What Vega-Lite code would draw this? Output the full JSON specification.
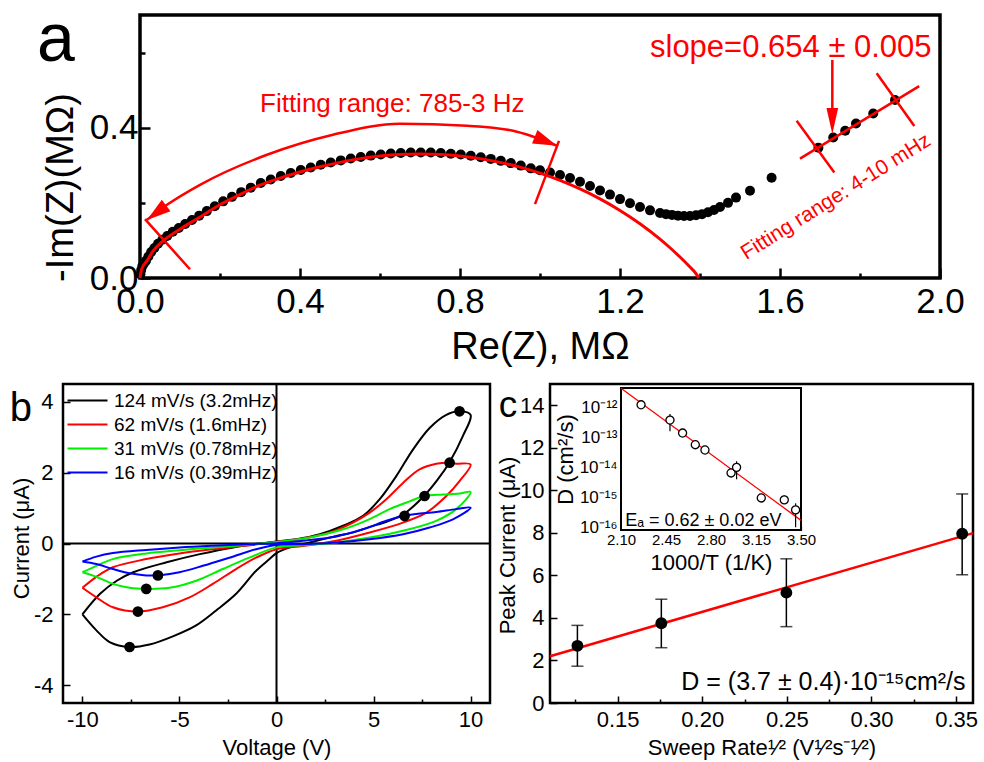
{
"$schema": "https://vega.github.io/schema/vega-lite/v6.json",
"background": "white",
"padding": {"left": 8, "top": 4, "right": 5, "bottom": 2},
"config": {
  "font": "Liberation Sans",
  "view": {"stroke": "black"},
  "axis": {"domain": false, "grid": false, "labelColor": "black", "titleColor": "black", "tickColor": "black", "titleFontWeight": "normal", "labelFont": "Liberation Sans", "titleFont": "Liberation Sans", "labelFlush": false, "labelOverlap": false},
  "text": {"font": "Liberation Sans"}
},
"datasets": {
  "eis": [{"re":0.001,"im":0.010},{"re":0.003,"im":0.021},{"re":0.006,"im":0.032},{"re":0.01,"im":0.039},{"re":0.015,"im":0.046},{"re":0.021,"im":0.057},{"re":0.028,"im":0.069},{"re":0.036,"im":0.080},{"re":0.045,"im":0.091},{"re":0.056,"im":0.102},{"re":0.068,"im":0.112},{"re":0.082,"im":0.123},{"re":0.097,"im":0.133},{"re":0.113,"im":0.1435},{"re":0.13,"im":0.1545},{"re":0.148,"im":0.166},{"re":0.167,"im":0.178},{"re":0.187,"im":0.191},{"re":0.208,"im":0.204},{"re":0.23,"im":0.216},{"re":0.253,"im":0.2285},{"re":0.277,"im":0.2405},{"re":0.302,"im":0.253},{"re":0.327,"im":0.262},{"re":0.352,"im":0.2715},{"re":0.377,"im":0.2795},{"re":0.402,"im":0.2875},{"re":0.427,"im":0.294},{"re":0.452,"im":0.3015},{"re":0.477,"im":0.3075},{"re":0.502,"im":0.313},{"re":0.527,"im":0.3181},{"re":0.552,"im":0.3222},{"re":0.577,"im":0.3258},{"re":0.602,"im":0.3287},{"re":0.627,"im":0.3312},{"re":0.652,"im":0.3329},{"re":0.677,"im":0.3339},{"re":0.702,"im":0.3341},{"re":0.727,"im":0.3338},{"re":0.752,"im":0.3327},{"re":0.777,"im":0.3309},{"re":0.802,"im":0.3285},{"re":0.827,"im":0.3254},{"re":0.852,"im":0.3216},{"re":0.877,"im":0.317},{"re":0.902,"im":0.3118},{"re":0.927,"im":0.3058},{"re":0.952,"im":0.2991},{"re":0.977,"im":0.2918},{"re":1.0,"im":0.287},{"re":1.025,"im":0.281},{"re":1.05,"im":0.274},{"re":1.075,"im":0.266},{"re":1.1,"im":0.256},{"re":1.125,"im":0.245},{"re":1.15,"im":0.233},{"re":1.175,"im":0.222},{"re":1.2,"im":0.21},{"re":1.225,"im":0.199},{"re":1.25,"im":0.189},{"re":1.275,"im":0.18},{"re":1.3,"im":0.173},{"re":1.315,"im":0.17},{"re":1.33,"im":0.168},{"re":1.345,"im":0.166},{"re":1.36,"im":0.165},{"re":1.375,"im":0.165},{"re":1.39,"im":0.167},{"re":1.405,"im":0.17},{"re":1.42,"im":0.175},{"re":1.435,"im":0.181},{"re":1.45,"im":0.189},{"re":1.47,"im":0.2},{"re":1.49,"im":0.214},{"re":1.525,"im":0.232},{"re":1.579,"im":0.267},{"re":1.696,"im":0.347},{"re":1.733,"im":0.374},{"re":1.763,"im":0.392},{"re":1.79,"im":0.411},{"re":1.833,"im":0.438},{"re":1.8875,"im":0.474}],
  "eisfit": [{"re":0,"im":0},{"re":0.004,"im":0.023},{"re":0.017,"im":0.045},{"re":0.033,"im":0.072},{"re":0.058,"im":0.099},{"re":0.1,"im":0.13},{"re":0.142,"im":0.157},{"re":0.2,"im":0.195},{"re":0.25,"im":0.222},{"re":0.3,"im":0.247},{"re":0.35,"im":0.266},{"re":0.4,"im":0.282},{"re":0.45,"im":0.296},{"re":0.5,"im":0.3078},{"re":0.55,"im":0.3177},{"re":0.6,"im":0.3246},{"re":0.65,"im":0.3288},{"re":0.7,"im":0.3301},{"re":0.75,"im":0.3288},{"re":0.8,"im":0.3246},{"re":0.85,"im":0.3177},{"re":0.9,"im":0.3078},{"re":0.95,"im":0.295},{"re":1.0,"im":0.2791},{"re":1.05,"im":0.2599},{"re":1.1,"im":0.2372},{"re":1.15,"im":0.2107},{"re":1.2,"im":0.1799},{"re":1.25,"im":0.1444},{"re":1.3,"im":0.1034},{"re":1.325,"im":0.0805},{"re":1.35,"im":0.0558},{"re":1.375,"im":0.0291},{"re":1.39,"im":0.0119},{"re":1.397,"im":0}],
  "arcarrow": [{"re":0.0175,"im":0.1547},{"re":0.0675,"im":0.1947},{"re":0.15,"im":0.248},{"re":0.3175,"im":0.328},{"re":0.4825,"im":0.3813},{"re":0.65,"im":0.4107},{"re":0.8175,"im":0.4053},{"re":0.9325,"im":0.392},{"re":1.0425,"im":0.352}],
  "segs": [{"seg":"L","k":0,"re":0.0125,"im":0.1565},{"seg":"L","k":1,"re":0.125,"im":0.0232},{"seg":"R","k":0,"re":0.9875,"im":0.1965},{"seg":"R","k":1,"re":1.0475,"im":0.365},{"seg":"F","k":0,"re":1.65,"im":0.3178},{"seg":"F","k":1,"re":1.948,"im":0.5107},{"seg":"C1","k":0,"re":1.6417,"im":0.4187},{"seg":"C1","k":1,"re":1.7358,"im":0.2808},{"seg":"C2","k":0,"re":1.8417,"im":0.5448},{"seg":"C2","k":1,"re":1.9358,"im":0.4047},{"seg":"V","k":0,"re":1.7308,"im":0.5805},{"seg":"V","k":1,"re":1.7308,"im":0.415}],
  "cv": [
    {"s":"124 mV/s (3.2mHz)","i":0,"V":-10,"I":-2.0},{"s":"124 mV/s (3.2mHz)","i":1,"V":-9.28,"I":-2.45},{"s":"124 mV/s (3.2mHz)","i":2,"V":-8.6,"I":-2.78},{"s":"124 mV/s (3.2mHz)","i":3,"V":-7.57,"I":-2.92},{"s":"124 mV/s (3.2mHz)","i":4,"V":-6.54,"I":-2.85},{"s":"124 mV/s (3.2mHz)","i":5,"V":-5.34,"I":-2.62},{"s":"124 mV/s (3.2mHz)","i":6,"V":-4.14,"I":-2.31},{"s":"124 mV/s (3.2mHz)","i":7,"V":-3.11,"I":-1.89},{"s":"124 mV/s (3.2mHz)","i":8,"V":-2.08,"I":-1.42},{"s":"124 mV/s (3.2mHz)","i":9,"V":-1.05,"I":-0.77},{"s":"124 mV/s (3.2mHz)","i":10,"V":-0.36,"I":-0.44},{"s":"124 mV/s (3.2mHz)","i":11,"V":0,"I":-0.27},{"s":"124 mV/s (3.2mHz)","i":12,"V":0.69,"I":-0.11},{"s":"124 mV/s (3.2mHz)","i":13,"V":1.71,"I":0.03},{"s":"124 mV/s (3.2mHz)","i":14,"V":3.09,"I":0.21},{"s":"124 mV/s (3.2mHz)","i":15,"V":4.0,"I":0.32},{"s":"124 mV/s (3.2mHz)","i":16,"V":4.8,"I":0.47},{"s":"124 mV/s (3.2mHz)","i":17,"V":5.7,"I":0.62},{"s":"124 mV/s (3.2mHz)","i":18,"V":6.6,"I":0.85},{"s":"124 mV/s (3.2mHz)","i":19,"V":7.6,"I":1.34},{"s":"124 mV/s (3.2mHz)","i":20,"V":8.3,"I":1.8},{"s":"124 mV/s (3.2mHz)","i":21,"V":8.9,"I":2.28},{"s":"124 mV/s (3.2mHz)","i":22,"V":9.6,"I":3.03},{"s":"124 mV/s (3.2mHz)","i":23,"V":10,"I":3.63},{"s":"124 mV/s (3.2mHz)","i":24,"V":9.43,"I":3.73},{"s":"124 mV/s (3.2mHz)","i":25,"V":8.75,"I":3.63},{"s":"124 mV/s (3.2mHz)","i":26,"V":7.89,"I":3.26},{"s":"124 mV/s (3.2mHz)","i":27,"V":7.03,"I":2.65},{"s":"124 mV/s (3.2mHz)","i":28,"V":6.17,"I":1.9},{"s":"124 mV/s (3.2mHz)","i":29,"V":5.32,"I":1.25},{"s":"124 mV/s (3.2mHz)","i":30,"V":4.46,"I":0.78},{"s":"124 mV/s (3.2mHz)","i":31,"V":3.43,"I":0.5},{"s":"124 mV/s (3.2mHz)","i":32,"V":2.23,"I":0.26},{"s":"124 mV/s (3.2mHz)","i":33,"V":1.03,"I":0.12},{"s":"124 mV/s (3.2mHz)","i":34,"V":0,"I":0.06},{"s":"124 mV/s (3.2mHz)","i":35,"V":-2.23,"I":-0.11},{"s":"124 mV/s (3.2mHz)","i":36,"V":-3.95,"I":-0.3},{"s":"124 mV/s (3.2mHz)","i":37,"V":-5.66,"I":-0.53},{"s":"124 mV/s (3.2mHz)","i":38,"V":-7.38,"I":-0.81},{"s":"124 mV/s (3.2mHz)","i":39,"V":-8.23,"I":-1.05},{"s":"124 mV/s (3.2mHz)","i":40,"V":-9.09,"I":-1.42},{"s":"124 mV/s (3.2mHz)","i":41,"V":-10,"I":-2.0},
    {"s":"62 mV/s (1.6mHz)","i":0,"V":-10,"I":-1.25},{"s":"62 mV/s (1.6mHz)","i":1,"V":-9.28,"I":-1.52},{"s":"62 mV/s (1.6mHz)","i":2,"V":-8.43,"I":-1.8},{"s":"62 mV/s (1.6mHz)","i":3,"V":-7.14,"I":-1.92},{"s":"62 mV/s (1.6mHz)","i":4,"V":-5.86,"I":-1.8},{"s":"62 mV/s (1.6mHz)","i":5,"V":-4.48,"I":-1.52},{"s":"62 mV/s (1.6mHz)","i":6,"V":-3.28,"I":-1.14},{"s":"62 mV/s (1.6mHz)","i":7,"V":-2.08,"I":-0.72},{"s":"62 mV/s (1.6mHz)","i":8,"V":-1.05,"I":-0.4},{"s":"62 mV/s (1.6mHz)","i":9,"V":0,"I":-0.16},{"s":"62 mV/s (1.6mHz)","i":10,"V":1.37,"I":-0.07},{"s":"62 mV/s (1.6mHz)","i":11,"V":3.09,"I":0.08},{"s":"62 mV/s (1.6mHz)","i":12,"V":4.8,"I":0.31},{"s":"62 mV/s (1.6mHz)","i":13,"V":6.52,"I":0.59},{"s":"62 mV/s (1.6mHz)","i":14,"V":7.72,"I":0.87},{"s":"62 mV/s (1.6mHz)","i":15,"V":8.75,"I":1.34},{"s":"62 mV/s (1.6mHz)","i":16,"V":9.43,"I":1.76},{"s":"62 mV/s (1.6mHz)","i":17,"V":10,"I":2.23},{"s":"62 mV/s (1.6mHz)","i":18,"V":9.26,"I":2.25},{"s":"62 mV/s (1.6mHz)","i":19,"V":8.92,"I":2.28},{"s":"62 mV/s (1.6mHz)","i":20,"V":8.23,"I":2.25},{"s":"62 mV/s (1.6mHz)","i":21,"V":7.37,"I":2.09},{"s":"62 mV/s (1.6mHz)","i":22,"V":6.52,"I":1.71},{"s":"62 mV/s (1.6mHz)","i":23,"V":5.66,"I":1.25},{"s":"62 mV/s (1.6mHz)","i":24,"V":4.8,"I":0.87},{"s":"62 mV/s (1.6mHz)","i":25,"V":3.94,"I":0.59},{"s":"62 mV/s (1.6mHz)","i":26,"V":2.74,"I":0.31},{"s":"62 mV/s (1.6mHz)","i":27,"V":1.37,"I":0.14},{"s":"62 mV/s (1.6mHz)","i":28,"V":0,"I":0.05},{"s":"62 mV/s (1.6mHz)","i":29,"V":-1.57,"I":-0.06},{"s":"62 mV/s (1.6mHz)","i":30,"V":-3.28,"I":-0.16},{"s":"62 mV/s (1.6mHz)","i":31,"V":-5.0,"I":-0.28},{"s":"62 mV/s (1.6mHz)","i":32,"V":-6.71,"I":-0.44},{"s":"62 mV/s (1.6mHz)","i":33,"V":-8.43,"I":-0.67},{"s":"62 mV/s (1.6mHz)","i":34,"V":-9.28,"I":-0.94},{"s":"62 mV/s (1.6mHz)","i":35,"V":-10,"I":-1.25},
    {"s":"31 mV/s (0.78mHz)","i":0,"V":-10,"I":-0.81},{"s":"31 mV/s (0.78mHz)","i":1,"V":-9.28,"I":-0.94},{"s":"31 mV/s (0.78mHz)","i":2,"V":-8.43,"I":-1.14},{"s":"31 mV/s (0.78mHz)","i":3,"V":-7.57,"I":-1.25},{"s":"31 mV/s (0.78mHz)","i":4,"V":-6.71,"I":-1.28},{"s":"31 mV/s (0.78mHz)","i":5,"V":-5.51,"I":-1.25},{"s":"31 mV/s (0.78mHz)","i":6,"V":-4.14,"I":-1.05},{"s":"31 mV/s (0.78mHz)","i":7,"V":-2.77,"I":-0.72},{"s":"31 mV/s (0.78mHz)","i":8,"V":-1.4,"I":-0.4},{"s":"31 mV/s (0.78mHz)","i":9,"V":0,"I":-0.11},{"s":"31 mV/s (0.78mHz)","i":10,"V":1.37,"I":-0.05},{"s":"31 mV/s (0.78mHz)","i":11,"V":3.09,"I":0.03},{"s":"31 mV/s (0.78mHz)","i":12,"V":4.8,"I":0.17},{"s":"31 mV/s (0.78mHz)","i":13,"V":6.52,"I":0.36},{"s":"31 mV/s (0.78mHz)","i":14,"V":8.23,"I":0.64},{"s":"31 mV/s (0.78mHz)","i":15,"V":9.26,"I":0.97},{"s":"31 mV/s (0.78mHz)","i":16,"V":10,"I":1.45},{"s":"31 mV/s (0.78mHz)","i":17,"V":9.43,"I":1.41},{"s":"31 mV/s (0.78mHz)","i":18,"V":8.58,"I":1.38},{"s":"31 mV/s (0.78mHz)","i":19,"V":7.63,"I":1.34},{"s":"31 mV/s (0.78mHz)","i":20,"V":6.86,"I":1.19},{"s":"31 mV/s (0.78mHz)","i":21,"V":5.83,"I":0.97},{"s":"31 mV/s (0.78mHz)","i":22,"V":4.8,"I":0.69},{"s":"31 mV/s (0.78mHz)","i":23,"V":3.43,"I":0.4},{"s":"31 mV/s (0.78mHz)","i":24,"V":1.71,"I":0.17},{"s":"31 mV/s (0.78mHz)","i":25,"V":0,"I":0.04},{"s":"31 mV/s (0.78mHz)","i":26,"V":-1.57,"I":-0.04},{"s":"31 mV/s (0.78mHz)","i":27,"V":-3.28,"I":-0.11},{"s":"31 mV/s (0.78mHz)","i":28,"V":-5.0,"I":-0.19},{"s":"31 mV/s (0.78mHz)","i":29,"V":-6.71,"I":-0.28},{"s":"31 mV/s (0.78mHz)","i":30,"V":-8.43,"I":-0.44},{"s":"31 mV/s (0.78mHz)","i":31,"V":-9.28,"I":-0.63},{"s":"31 mV/s (0.78mHz)","i":32,"V":-10,"I":-0.81},
    {"s":"16 mV/s (0.39mHz)","i":0,"V":-10,"I":-0.51},{"s":"16 mV/s (0.39mHz)","i":1,"V":-9.28,"I":-0.58},{"s":"16 mV/s (0.39mHz)","i":2,"V":-8.43,"I":-0.72},{"s":"16 mV/s (0.39mHz)","i":3,"V":-7.57,"I":-0.84},{"s":"16 mV/s (0.39mHz)","i":4,"V":-6.71,"I":-0.9},{"s":"16 mV/s (0.39mHz)","i":5,"V":-6.11,"I":-0.9},{"s":"16 mV/s (0.39mHz)","i":6,"V":-5.0,"I":-0.81},{"s":"16 mV/s (0.39mHz)","i":7,"V":-3.8,"I":-0.63},{"s":"16 mV/s (0.39mHz)","i":8,"V":-2.43,"I":-0.4},{"s":"16 mV/s (0.39mHz)","i":9,"V":-1.05,"I":-0.16},{"s":"16 mV/s (0.39mHz)","i":10,"V":0,"I":-0.04},{"s":"16 mV/s (0.39mHz)","i":11,"V":1.37,"I":-0.02},{"s":"16 mV/s (0.39mHz)","i":12,"V":3.09,"I":0.03},{"s":"16 mV/s (0.39mHz)","i":13,"V":4.8,"I":0.12},{"s":"16 mV/s (0.39mHz)","i":14,"V":6.52,"I":0.26},{"s":"16 mV/s (0.39mHz)","i":15,"V":7.89,"I":0.45},{"s":"16 mV/s (0.39mHz)","i":16,"V":9.09,"I":0.68},{"s":"16 mV/s (0.39mHz)","i":17,"V":10,"I":1.01},{"s":"16 mV/s (0.39mHz)","i":18,"V":9.26,"I":0.97},{"s":"16 mV/s (0.39mHz)","i":19,"V":8.23,"I":0.89},{"s":"16 mV/s (0.39mHz)","i":20,"V":7.2,"I":0.83},{"s":"16 mV/s (0.39mHz)","i":21,"V":6.6,"I":0.78},{"s":"16 mV/s (0.39mHz)","i":22,"V":5.66,"I":0.64},{"s":"16 mV/s (0.39mHz)","i":23,"V":4.46,"I":0.4},{"s":"16 mV/s (0.39mHz)","i":24,"V":3.09,"I":0.2},{"s":"16 mV/s (0.39mHz)","i":25,"V":1.37,"I":0.08},{"s":"16 mV/s (0.39mHz)","i":26,"V":0,"I":0.01},{"s":"16 mV/s (0.39mHz)","i":27,"V":-1.57,"I":-0.02},{"s":"16 mV/s (0.39mHz)","i":28,"V":-3.28,"I":-0.06},{"s":"16 mV/s (0.39mHz)","i":29,"V":-5.0,"I":-0.11},{"s":"16 mV/s (0.39mHz)","i":30,"V":-6.71,"I":-0.18},{"s":"16 mV/s (0.39mHz)","i":31,"V":-8.43,"I":-0.27},{"s":"16 mV/s (0.39mHz)","i":32,"V":-9.28,"I":-0.37},{"s":"16 mV/s (0.39mHz)","i":33,"V":-10,"I":-0.51}
  ],
  "peaks": [{"V":9.43,"I":3.73},{"V":-7.57,"I":-2.92},{"V":8.92,"I":2.28},{"V":-7.14,"I":-1.92},{"V":7.63,"I":1.34},{"V":-6.71,"I":-1.28},{"V":6.6,"I":0.78},{"V":-6.11,"I":-0.9}],
  "fitc": [{"x":0.11,"y":2.2},{"x":0.36,"y":7.99}],
  "peakc": [{"x":0.1262,"y":2.69,"lo":1.73,"hi":3.65},{"x":0.1758,"y":3.75,"lo":2.6,"hi":4.88},{"x":0.2497,"y":5.19,"lo":3.59,"hi":6.78},{"x":0.3536,"y":7.96,"lo":6.03,"hi":9.83}],
  "inset": [{"t":2.256,"D":1.23e-12},{"t":2.481,"D":3.8e-13},{"t":2.579,"D":1.4e-13},{"t":2.678,"D":5.7e-14},{"t":2.753,"D":3.8e-14},{"t":2.956,"D":6.5e-15},{"t":2.999,"D":1.0e-14},{"t":3.191,"D":9.5e-16},{"t":3.37,"D":8.2e-16},{"t":3.458,"D":3.8e-16}],
  "inseterr": [{"t":2.481,"lo":1.6e-13,"hi":6.0e-13},{"t":2.999,"lo":4.0e-15,"hi":1.6e-14},{"t":3.37,"lo":6.0e-16,"hi":1.15e-15},{"t":3.458,"lo":1.0e-16,"hi":6.3e-16}],
  "insetfit": [{"t":2.1,"D":4.4e-12},{"t":3.5,"D":1.7e-16}]
},
"spacing": 369,
"bounds": "flush",
"resolve": {"scale": {"color": "independent"}, "legend": {"color": "independent"}},
"vconcat": [
 {"hconcat": [
   {"width": 57, "height": 263, "data": {"values": []}, "mark": {"type": "point"}, "encoding": {}, "view": {"stroke": null}},
   {"width": 800, "height": 263,
    "view": {"stroke": "black", "strokeWidth": 3.5},
    "layer": [
     {"data": {"name": "eis"}, "mark": {"type": "point", "filled": true, "color": "black", "size": 100, "opacity": 1},
      "encoding": {
        "x": {"field": "re", "type": "quantitative", "scale": {"domain": [0, 2], "nice": false, "zero": false},
              "axis": {"title": "Re(Z), MΩ", "values": [0,0.2,0.4,0.6,0.8,1,1.2,1.4,1.6,1.8,2], "labelExpr": "round(datum.value*10)%4==0 ? format(datum.value,'.1f') : ''", "labelFontSize": 35, "titleFontSize": 38, "tickSize": {"condition": {"test": "round(datum.value*10)%4!=0", "value": -5}, "value": -10}, "tickWidth": 2.5, "labelPadding": 16, "titlePadding": 4}},
        "y": {"field": "im", "type": "quantitative", "scale": {"domain": [0, 0.7], "nice": false, "zero": false},
              "axis": {"title": "-Im(Z)(MΩ)", "values": [0,0.2,0.4,0.6], "labelExpr": "round(datum.value*10)%4==0 ? format(datum.value,'.1f') : ''", "labelFontSize": 35, "titleFontSize": 38, "tickSize": {"condition": {"test": "round(datum.value*10)%4!=0", "value": -5}, "value": -10}, "tickWidth": 2.5, "labelPadding": 12, "titleX": -60, "titleY": 172}}
      }},
     {"data": {"name": "eisfit"}, "mark": {"type": "line", "color": "red", "strokeWidth": 3, "interpolate": "monotone"},
      "encoding": {"x": {"field": "re", "type": "quantitative"}, "y": {"field": "im", "type": "quantitative"}}},
     {"data": {"name": "arcarrow"}, "mark": {"type": "line", "color": "red", "strokeWidth": 2.5, "interpolate": "monotone"},
      "encoding": {"x": {"field": "re", "type": "quantitative"}, "y": {"field": "im", "type": "quantitative"}}},
     {"data": {"name": "segs"}, "mark": {"type": "line", "color": "red", "strokeWidth": 2.5},
      "encoding": {"x": {"field": "re", "type": "quantitative"}, "y": {"field": "im", "type": "quantitative"}, "detail": {"field": "seg"}, "order": {"field": "k", "type": "quantitative"}}},
     {"data": {"values": [{"re": 0.0175, "im": 0.1547}]}, "mark": {"type": "point", "shape": "M0,0L-2,-0.6L-2,0.6Z", "filled": true, "color": "red", "opacity": 1, "size": 576, "angle": 143},
      "encoding": {"x": {"field": "re", "type": "quantitative"}, "y": {"field": "im", "type": "quantitative"}}},
     {"data": {"values": [{"re": 1.0425, "im": 0.352}]}, "mark": {"type": "point", "shape": "M0,0L-2,-0.6L-2,0.6Z", "filled": true, "color": "red", "opacity": 1, "size": 576, "angle": 22},
      "encoding": {"x": {"field": "re", "type": "quantitative"}, "y": {"field": "im", "type": "quantitative"}}},
     {"data": {"values": [{"re": 1.7308, "im": 0.3831}]}, "mark": {"type": "point", "shape": "M0,0L-2,-0.45L-2,0.45Z", "filled": true, "color": "red", "opacity": 1, "size": 676, "angle": 90},
      "encoding": {"x": {"field": "re", "type": "quantitative"}, "y": {"field": "im", "type": "quantitative"}}},
     {"data": {"values": [{"re": 0.3, "im": 0.4408, "label": "Fitting range: 785-3 Hz"}]}, "mark": {"type": "text", "color": "red", "fontSize": 26, "align": "left", "baseline": "alphabetic"},
      "encoding": {"x": {"field": "re", "type": "quantitative"}, "y": {"field": "im", "type": "quantitative"}, "text": {"field": "label"}}},
     {"data": {"values": [{"re": 1.979, "im": 0.5875, "label": "slope=0.654 ± 0.005"}]}, "mark": {"type": "text", "color": "red", "fontSize": 31, "align": "right", "baseline": "alphabetic"},
      "encoding": {"x": {"field": "re", "type": "quantitative"}, "y": {"field": "im", "type": "quantitative"}, "text": {"field": "label"}}},
     {"data": {"values": [{"re": 1.74, "im": 0.2155, "label": "Fitting range: 4-10 mHz"}]}, "mark": {"type": "text", "color": "red", "fontSize": 21, "align": "center", "baseline": "middle", "angle": 328},
      "encoding": {"x": {"field": "re", "type": "quantitative"}, "y": {"field": "im", "type": "quantitative"}, "text": {"field": "label"}}},
     {"data": {"values": [{"re": -0.2575, "im": 0.5787, "label": "a"}]}, "mark": {"type": "text", "color": "black", "fontSize": 68, "align": "left", "baseline": "alphabetic"},
      "encoding": {"x": {"field": "re", "type": "quantitative"}, "y": {"field": "im", "type": "quantitative"}, "text": {"field": "label"}}}
    ]}
  ], "spacing": 20, "bounds": "flush"},
 {"hconcat": [
   {"width": 427, "height": 319,
    "view": {"stroke": "black", "strokeWidth": 2.5},
    "layer": [
     {"data": {"values": [{"v": 0}]}, "mark": {"type": "rule", "color": "black", "strokeWidth": 2},
      "encoding": {"x": {"field": "v", "type": "quantitative", "scale": {"domain": [-11, 11], "nice": false, "zero": false},
        "axis": {"title": "Voltage (V)", "values": [-10,-7.5,-5,-2.5,0,2.5,5,7.5,10], "labelExpr": "datum.value % 5 == 0 ? toString(datum.value) : ''", "labelFontSize": 22, "titleFontSize": 22, "tickSize": {"condition": {"test": "datum.value % 5 != 0", "value": -4}, "value": -7}, "tickWidth": 1.5, "labelPadding": 13, "titlePadding": 4}}}},
     {"data": {"values": [{"v": 0}]}, "mark": {"type": "rule", "color": "black", "strokeWidth": 2},
      "encoding": {"y": {"field": "v", "type": "quantitative", "scale": {"domain": [-4.5, 4.5], "nice": false, "zero": false},
        "axis": {"title": "Current (μA)", "values": [-4,-3,-2,-1,0,1,2,3,4], "labelExpr": "datum.value % 2 == 0 ? toString(datum.value) : ''", "labelFontSize": 22, "titleFontSize": 22, "tickSize": {"condition": {"test": "datum.value % 2 != 0", "value": -4}, "value": -7}, "tickWidth": 1.5, "labelPadding": 17, "titleX": -30, "titleY": 154}}}},
     {"data": {"name": "cv"}, "mark": {"type": "line", "strokeWidth": 2, "interpolate": "catmull-rom"},
      "encoding": {
        "x": {"field": "V", "type": "quantitative"},
        "y": {"field": "I", "type": "quantitative"},
        "order": {"field": "i", "type": "quantitative"},
        "color": {"field": "s", "type": "nominal",
          "scale": {"domain": ["124 mV/s (3.2mHz)", "62 mV/s (1.6mHz)", "31 mV/s (0.78mHz)", "16 mV/s (0.39mHz)"], "range": ["black", "#ff0000", "#00f000", "#0000ff"]},
          "legend": {"orient": "none", "legendX": -5, "legendY": 7, "title": null, "symbolType": "M0,0H8", "symbolSize": 100, "symbolStrokeWidth": 2, "labelFontSize": 19, "labelOffset": 37, "rowPadding": 4, "padding": 0, "labelColor": "black", "labelLimit": 400}}
      }},
     {"data": {"name": "peaks"}, "mark": {"type": "point", "filled": true, "color": "black", "opacity": 1, "size": 115},
      "encoding": {"x": {"field": "V", "type": "quantitative"}, "y": {"field": "I", "type": "quantitative"}}},
     {"data": {"values": [{"V": -13.74, "I": 3.447, "label": "b"}]}, "mark": {"type": "text", "color": "black", "fontSize": 40, "align": "left", "baseline": "alphabetic"},
      "encoding": {"x": {"field": "V", "type": "quantitative"}, "y": {"field": "I", "type": "quantitative"}, "text": {"field": "label"}}}
    ]},
   {"width": 423, "height": 319,
    "view": {"stroke": "black", "strokeWidth": 2.5},
    "resolve": {"scale": {"x": "independent", "y": "independent"}, "axis": {"x": "independent", "y": "independent"}},
    "layer": [
     {"layer": [
       {"data": {"name": "fitc"}, "mark": {"type": "line", "color": "red", "strokeWidth": 2.5},
        "encoding": {
          "x": {"field": "x", "type": "quantitative", "scale": {"domain": [0.11, 0.36], "nice": false, "zero": false},
            "axis": {"orient": "bottom", "title": "Sweep Rate¹⁄² (V¹⁄²s⁻¹⁄²)", "values": [0.125,0.15,0.175,0.2,0.225,0.25,0.275,0.3,0.325,0.35], "labelExpr": "round(datum.value*1000)%50==0 ? format(datum.value,'.2f') : ''", "labelFontSize": 22, "titleFontSize": 22, "tickSize": {"condition": {"test": "round(datum.value*1000)%50!=0", "value": -4}, "value": -7}, "tickWidth": 1.5, "labelPadding": 13, "titlePadding": 4}},
          "y": {"field": "y", "type": "quantitative", "scale": {"domain": [0, 15], "nice": false, "zero": false},
            "axis": {"orient": "left", "title": "Peak Current (μA)", "values": [0,1,2,3,4,5,6,7,8,9,10,11,12,13,14], "labelExpr": "datum.value % 2 == 0 ? toString(datum.value) : ''", "labelFontSize": 22, "titleFontSize": 22, "tickSize": {"condition": {"test": "datum.value % 2 != 0", "value": -4}, "value": -7}, "tickWidth": 1.5, "labelPadding": 13, "titleX": -31, "titleY": 161}}
        }},
       {"data": {"name": "peakc"}, "mark": {"type": "rule", "color": "black", "strokeWidth": 1.5},
        "encoding": {"x": {"field": "x", "type": "quantitative"}, "y": {"field": "lo", "type": "quantitative"}, "y2": {"field": "hi"}}},
       {"data": {"name": "peakc"}, "mark": {"type": "tick", "orient": "horizontal", "color": "black", "thickness": 1.5, "size": 12},
        "encoding": {"x": {"field": "x", "type": "quantitative"}, "y": {"field": "lo", "type": "quantitative"}}},
       {"data": {"name": "peakc"}, "mark": {"type": "tick", "orient": "horizontal", "color": "black", "thickness": 1.5, "size": 12},
        "encoding": {"x": {"field": "x", "type": "quantitative"}, "y": {"field": "hi", "type": "quantitative"}}},
       {"data": {"name": "peakc"}, "mark": {"type": "point", "filled": true, "color": "black", "opacity": 1, "size": 140},
        "encoding": {"x": {"field": "x", "type": "quantitative"}, "y": {"field": "y", "type": "quantitative"}}},
       {"data": {"values": [{"x": 0.3556, "y": 0.6, "label": "D = (3.7 ± 0.4)·10⁻¹⁵cm²/s"}]}, "mark": {"type": "text", "color": "black", "fontSize": 25, "align": "right", "baseline": "alphabetic"},
        "encoding": {"x": {"field": "x", "type": "quantitative"}, "y": {"field": "y", "type": "quantitative"}, "text": {"field": "label"}}},
       {"data": {"values": [{"x": 0.0797, "y": 13.44, "label": "c"}]}, "mark": {"type": "text", "color": "black", "fontSize": 37, "align": "left", "baseline": "alphabetic"},
        "encoding": {"x": {"field": "x", "type": "quantitative"}, "y": {"field": "y", "type": "quantitative"}, "text": {"field": "label"}}}
     ]},
     {"layer": [
       {"data": {"values": [{}]}, "mark": {"type": "rect", "fill": "white", "stroke": "black", "strokeWidth": 2},
        "encoding": {
          "x": {"datum": 2.1, "type": "quantitative", "scale": {"domain": [2.1, 3.5], "range": [71, 251], "nice": false, "zero": false},
            "axis": {"orient": "bottom", "offset": -173, "title": "1000/T (1/K)", "values": [2.1, 2.45, 2.8, 3.15, 3.5], "format": ".2f", "labelFontSize": 15, "titleFontSize": 22, "tickSize": -4, "tickWidth": 1.2, "labelPadding": 6, "titlePadding": 5}},
          "x2": {"datum": 3.5},
          "y": {"datum": 8.1e-17, "type": "quantitative", "scale": {"type": "log", "domain": [8.1e-17, 4.47e-12], "range": [146, 4], "nice": false},
            "axis": {"orient": "left", "offset": -71, "title": "D (cm²/s)", "values": [1e-16, 1e-15, 1e-14, 1e-13, 1e-12], "labelExpr": "datum.value < 3e-16 ? '10⁻¹⁶' : datum.value < 3e-15 ? '10⁻¹⁵' : datum.value < 3e-14 ? '10⁻¹⁴' : datum.value < 3e-13 ? '10⁻¹³' : '10⁻¹²'", "labelFontSize": 17, "titleFontSize": 22, "tickSize": -4, "tickWidth": 1.2, "labelPadding": 8, "titlePadding": 2}},
          "y2": {"datum": 4.47e-12}
        }},
       {"data": {"name": "insetfit"}, "mark": {"type": "line", "color": "red", "strokeWidth": 1.3},
        "encoding": {"x": {"field": "t", "type": "quantitative"}, "y": {"field": "D", "type": "quantitative"}}},
       {"data": {"name": "inseterr"}, "mark": {"type": "rule", "color": "black", "strokeWidth": 1.2},
        "encoding": {"x": {"field": "t", "type": "quantitative"}, "y": {"field": "lo", "type": "quantitative"}, "y2": {"field": "hi"}}},
       {"data": {"name": "inset"}, "mark": {"type": "point", "shape": "circle", "filled": true, "fill": "white", "stroke": "black", "strokeWidth": 1.3, "opacity": 1, "size": 65},
        "encoding": {"x": {"field": "t", "type": "quantitative"}, "y": {"field": "D", "type": "quantitative"}}},
       {"data": {"values": [{"t": 2.133, "D": 1.12e-16, "label": "Eₐ = 0.62 ± 0.02 eV"}]}, "mark": {"type": "text", "color": "black", "fontSize": 18, "align": "left", "baseline": "alphabetic"},
        "encoding": {"x": {"field": "t", "type": "quantitative"}, "y": {"field": "D", "type": "quantitative"}, "text": {"field": "label"}}}
     ]}
    ]}
  ], "spacing": 60, "bounds": "flush", "resolve": {"scale": {"color": "independent"}, "legend": {"color": "independent"}}}
]
}
